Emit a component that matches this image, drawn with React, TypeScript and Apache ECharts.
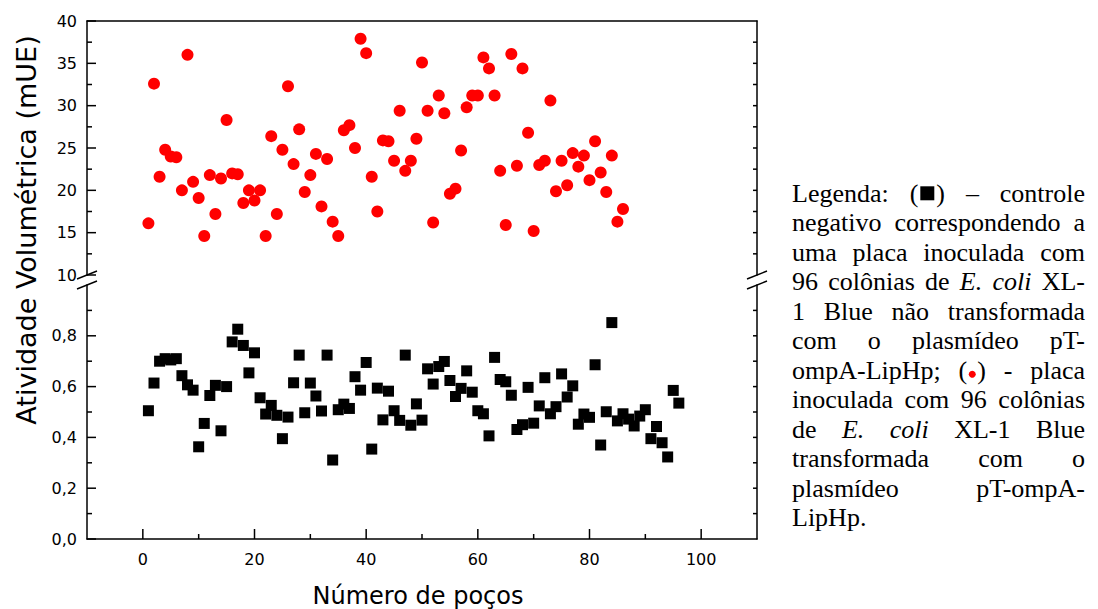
import React, { useEffect, useRef } from "react";
import * as echarts from "echarts";

// Well numbers (x) and activities
const blackValues = [
  0.505, 0.614, 0.70, 0.71, 0.705, 0.71, 0.643, 0.607, 0.586, 0.363,
  0.455, 0.565, 0.605, 0.426, 0.60, 0.776, 0.826, 0.762, 0.654, 0.733,
  0.556, 0.492, 0.526, 0.487, 0.395, 0.48, 0.615, 0.724, 0.497, 0.614,
  0.563, 0.504, 0.724, 0.311, 0.509, 0.531, 0.514, 0.639, 0.586, 0.695,
  0.354, 0.594, 0.469, 0.582, 0.505, 0.467, 0.724, 0.448, 0.532, 0.468,
  0.67, 0.61, 0.679, 0.699, 0.624, 0.561, 0.593, 0.662, 0.578, 0.505,
  0.493, 0.406, 0.715, 0.628, 0.619, 0.566, 0.431, 0.45, 0.597, 0.456,
  0.524, 0.635, 0.493, 0.521, 0.65, 0.559, 0.603, 0.452, 0.492, 0.479,
  0.686, 0.37, 0.501, 0.852, 0.465, 0.493, 0.472, 0.445, 0.484, 0.509,
  0.395, 0.443, 0.379, 0.323, 0.585, 0.535,
];
const redValues = [
  16.1, 32.6, 21.6, 24.8, 24.0, 23.9, 20.0, 36.0, 21.0, 19.1,
  14.6, 21.8, 17.2, 21.4, 28.3, 22.0, 21.9, 18.5, 20.0, 18.8,
  20.0, 14.6, 26.4, 17.2, 24.8, 32.3, 23.1, 27.2, 19.8, 21.8,
  24.3, 18.1, 23.7, 16.3, 14.6, 27.1, 27.7, 25.0, 37.9, 36.2,
  21.6, 17.5, 25.9, 25.8, 23.5, 29.4, 22.3, 23.5, 26.1, 35.1,
  29.4, 16.2, 31.2, 29.1, 19.6, 20.2, 24.7, 29.8, 31.2, 31.2,
  35.7, 34.4, 31.2, 22.3, 15.9, 36.1, 22.9, 34.4, 26.8, 15.2,
  23.0, 23.5, 30.6, 19.9, 23.5, 20.6, 24.4, 22.8, 24.1, 21.2,
  25.8, 22.1, 19.8, 24.1, 16.3, 17.8,
];
const xMajorTicks = [0, 20, 40, 60, 80, 100];
const xMinorTicks = [10, 30, 50, 70, 90];
const lowMajorTicks = [0, 0.2, 0.4, 0.6, 0.8];
const lowMinorTicks = [0.1, 0.3, 0.5, 0.7, 0.9];
const lowRightTicks = [0.1, 0.2, 0.3, 0.4, 0.5, 0.6, 0.7, 0.8, 0.9];
const highMajorTicks = [10, 15, 20, 25, 30, 35, 40];
const highMinorTicks = [12.5, 17.5, 22.5, 27.5, 32.5, 37.5];
const highRightTicks = [12.5, 15, 17.5, 20, 22.5, 25, 27.5, 30, 32.5, 35, 37.5];

const xTitle = "Número de poços";
const yTitle = "Atividade Volumétrica (mUE)";

const legendLines = [
  "Legenda: (■) – controle",
  "negativo correspondendo a",
  "uma placa inoculada com",
  "96 colônias de _E._ _coli_ XL-",
  "1 Blue não transformada",
  "com o plasmídeo pT-",
  "ompA-LipHp; (•) - placa",
  "inoculada com 96 colônias",
  "de _E._ _coli_ XL-1 Blue",
  "transformada com o",
  "plasmídeo pT-ompA-",
  "LipHp.",
];

const AXIS_FONT = "DejaVu Sans";
const SERIF = "Liberation Serif";
const LEG_SIZE = 26;
const black = "#000";

function buildLegend(): any[] {
  const canvas = document.createElement("canvas");
  const ctx = canvas.getContext("2d")!;
  const measure = (t: string, it: boolean) => {
    ctx.font = `${it ? "italic " : ""}${LEG_SIZE}px "${SERIF}"`;
    return ctx.measureText(t).width;
  };
  const L = 792;
  const R = 1085;
  const y0 = 193.3;
  const lh = 29.5;
  const els: any[] = [];
  legendLines.forEach((line, li) => {
    const cy = y0 + li * lh;
    const words = line.split(" ").map((w) => {
      const segs: any[] = [];
      if (w === "(■)" || w === "(•)") {
        segs.push({ t: "(", w: measure("(", false) });
        if (w === "(■)") segs.push({ sq: true, w: 18 });
        else segs.push({ dot: true, w: 10 });
        segs.push({ t: ")", w: measure(")", false) });
      } else {
        const it = w.startsWith("_") && w.endsWith("_");
        const t = it ? w.slice(1, -1) : w;
        segs.push({ t, it, w: measure(t, it) });
      }
      const width = segs.reduce((s, g) => s + g.w, 0);
      return { segs, width };
    });
    const total = words.reduce((s, w) => s + w.width, 0);
    const last = li === legendLines.length - 1;
    const gap = last || words.length < 2 ? measure(" ", false) : (R - L - total) / (words.length - 1);
    let x = L;
    words.forEach((wd) => {
      let sx = x;
      wd.segs.forEach((g: any) => {
        if (g.sq) {
          els.push({ type: "rect", shape: { x: sx + 2, y: cy - 7, width: 14, height: 14 }, style: { fill: black } });
        } else if (g.dot) {
          els.push({ type: "circle", shape: { cx: sx + 5, cy: cy + 4, r: 3.5 }, style: { fill: "#ff0000" } });
        } else {
          els.push({
            type: "text",
            x: sx,
            y: cy,
            style: {
              text: g.t,
              fontSize: LEG_SIZE,
              fontFamily: SERIF,
              fontStyle: g.it ? "italic" : "normal",
              fill: black,
              align: "left",
              verticalAlign: "middle",
            },
          });
        }
        sx += g.w;
      });
      x += wd.width + gap;
    });
  });
  return els;
}

const lineOn = () => ({ show: true, onZero: false, lineStyle: { color: black, width: 1.5 } });
const labelStyle = { color: black, fontSize: 16, fontFamily: AXIS_FONT };

function valAxis(extra: any) {
  return {
    type: "value",
    splitLine: { show: false },
    axisLabel: { show: false },
    axisLine: lineOn(),
    axisTick: { show: false },
    ...extra,
  };
}

export default function App() {
  const ref = useRef<HTMLDivElement>(null);
  useEffect(() => {
    if (!ref.current) return;
    const chart = echarts.init(ref.current, null, { renderer: "svg" });
    const redData = redValues.map((v, i) => [i + 1, v]);
    const blackData = blackValues.map((v, i) => [i + 1, v]);

    const option: any = {
      animation: false,
      backgroundColor: "#fff",
      grid: [
        { left: 87, top: 21, width: 670, height: 254 },
        { left: 87, top: 285, width: 670, height: 254 },
      ],
      xAxis: [
        valAxis({ gridIndex: 0, position: "top", min: -10, max: 110 }),
        valAxis({
          gridIndex: 1, position: "bottom", min: -10, max: 110,
          axisLabel: { ...labelStyle, margin: 12, customValues: xMajorTicks },
        }),
      ],
      yAxis: [
        valAxis({
          gridIndex: 0, position: "left", min: 10, max: 40,
          axisLabel: { ...labelStyle, margin: 10, customValues: highMajorTicks },
        }),
        valAxis({ gridIndex: 0, position: "right", min: 10, max: 40 }),
        valAxis({
          gridIndex: 1, position: "left", min: 0, max: 1,
          axisLabel: {
            ...labelStyle, margin: 10, customValues: lowMajorTicks,
            formatter: (v: number) => v.toFixed(1).replace(".", ","),
          },
        }),
        valAxis({ gridIndex: 1, position: "right", min: 0, max: 1 }),
      ],
      series: [
        {
          type: "scatter", xAxisIndex: 0, yAxisIndex: 0, data: redData,
          symbol: "circle", symbolSize: 12, itemStyle: { color: "#ff0000", opacity: 1 },
        },
        {
          type: "scatter", xAxisIndex: 1, yAxisIndex: 2, data: blackData,
          symbol: "rect", symbolSize: 11, itemStyle: { color: black, opacity: 1 },
        },
      ],
    };
    chart.setOption(option);

    // Tick marks placed through the axes' own scales (thin filled bars)
    const px = (v: number) => chart.convertToPixel({ xAxisIndex: 1 } as any, v) as number;
    const pyHigh = (v: number) => chart.convertToPixel({ yAxisIndex: 0 } as any, v) as number;
    const pyLow = (v: number) => chart.convertToPixel({ yAxisIndex: 2 } as any, v) as number;
    const xl = px(-10);
    const xr = px(110);
    const yb = pyLow(0);
    const T = 1.5;
    const bar = (x: number, y: number, w: number, h: number) => ({
      type: "rect", silent: true, z: 100,
      shape: { x, y, width: w, height: h }, style: { fill: black },
    });
    const vTick = (x: number, len: number) => bar(x - T / 2, yb - len, T, len);
    const hTickL = (y: number, len: number) => bar(xl, y - T / 2, len, T);
    const hTickR = (y: number, len: number) => bar(xr - len, y - T / 2, len, T);
    const els: any[] = [];
    xMajorTicks.forEach((v) => els.push(vTick(px(v), 10)));
    xMinorTicks.forEach((v) => els.push(vTick(px(v), 5)));
    highMajorTicks.forEach((v) => els.push(hTickL(pyHigh(v), 9)));
    highMinorTicks.forEach((v) => els.push(hTickL(pyHigh(v), 5)));
    highRightTicks.forEach((v) => els.push(hTickR(pyHigh(v), 4)));
    lowMajorTicks.forEach((v) => els.push(hTickL(pyLow(v), 9)));
    lowMinorTicks.forEach((v) => els.push(hTickR(pyLow(v), 0) && hTickL(pyLow(v), 5)));
    lowRightTicks.forEach((v) => els.push(hTickR(pyLow(v), 4)));

    // Axis-break marks between the two panels
    const yTopEnd = pyHigh(10);
    const yLowEnd = pyLow(1);
    const slash = (x1: number, y1: number, x2: number, y2: number) => ({
      type: "line", silent: true, z: 100, shape: { x1, y1, x2, y2 }, style: { stroke: black, lineWidth: 1.5 },
    });
    [xl, xr].forEach((ax) => {
      els.push(slash(ax - 10, yTopEnd + 4, ax + 10, yTopEnd - 4));
      els.push(slash(ax - 10, yLowEnd + 4, ax + 10, yLowEnd - 4));
    });

    chart.setOption({
      graphic: [
        ...els,
        {
          type: "text", x: 26, y: 230, rotation: Math.PI / 2,
          style: { text: yTitle, fontSize: 27, fontFamily: AXIS_FONT, fill: black, align: "center", verticalAlign: "middle" },
        },
        {
          type: "text", x: 418, y: 596,
          style: { text: xTitle, fontSize: 24, fontFamily: AXIS_FONT, fill: black, align: "center", verticalAlign: "middle" },
        },
        ...buildLegend(),
      ],
    });
    return () => chart.dispose();
  }, []);
  return (
    <div
      ref={ref}
      style={{ position: "fixed", left: 0, top: 0, width: 1098, height: 609, background: "#fff" }}
    />
  );
}
